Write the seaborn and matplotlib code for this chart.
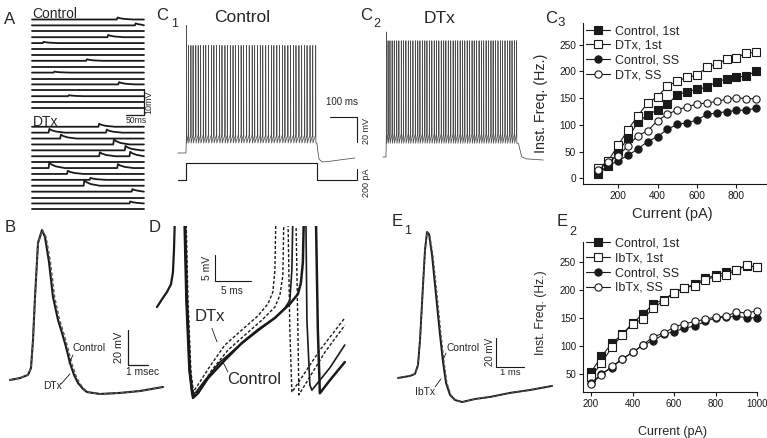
import matplotlib
matplotlib.use("Agg")
import matplotlib.pyplot as plt
import seaborn as sns

sns.set_theme(style="ticks")
plt.rcParams['font.family'] = ['Liberation Sans', 'DejaVu Sans']

# ---------------- data ----------------
# C3: firing frequency vs injected current (Control vs DTx)
c3_current = [100, 150, 200, 250, 300, 350, 400, 450, 500, 550, 600, 650, 700, 750, 800, 850, 900]
c3_ctrl_1st = [8, 24, 50, 75, 105, 119, 128, 139, 156, 162, 167, 170, 181, 186, 189, 192, 200]
c3_dtx_1st = [19, 33, 62, 91, 117, 141, 153, 173, 182, 189, 193, 208, 214, 223, 226, 234, 236]
c3_ctrl_ss = [11, 24, 33, 43, 55, 69, 78, 92, 101, 104, 109, 120, 122, 125, 127, 128, 131]
c3_dtx_ss = [16, 31, 42, 61, 80, 89, 108, 120, 128, 134, 139, 141, 144, 148, 151, 149, 149]

# E2: firing frequency vs injected current (Control vs IbTx)
e2_current = [200, 250, 300, 350, 400, 450, 500, 550, 600, 650, 700, 750, 800, 850, 900, 950, 1000]
e2_ctrl_1st = [54, 82, 105, 121, 141, 157, 175, 183, 195, 204, 210, 221, 226, 232, 236, 243, 241]
e2_ibtx_1st = [45, 70, 98, 120, 140, 148, 168, 181, 195, 204, 208, 218, 224, 226, 236, 244, 241]
e2_ctrl_ss = [34, 51, 62, 77, 89, 102, 110, 121, 126, 132, 136, 144, 150, 152, 153, 151, 150]
e2_ibtx_ss = [33, 49, 64, 77, 89, 102, 117, 123, 134, 140, 144, 148, 152, 153, 161, 159, 163]

# A: spontaneous sweeps, events per sweep (time ms, amplitude mV)
a_sweep_ms = 310
a_ctrl_events = [[(235, 0.8)], [(285, 0.8)], [], [(209, 0.9)], [(30, 0.5)], [], [],
                 [(150, 0.6)], [], [(60, 0.4)], [], [(239, 0.9)], [], [(100, 0.4)], [], []]
a_dtx_events = [[(184, 1.2)], [(46, 1.5), (205, 1.2)], [(78, 1.6)], [(225, 2.0)],
                [(257, 1.8)], [(186, 1.6), (270, 1.8)], [], [(46, 2.2), (236, 1.6)],
                [(97, 1.3)], [(160, 0.8)], [(143, 2.2)], [(276, 1.0)], [], [(270, 0.8)], []]
epsp_dt = [0, 2, 8, 20, 45]
epsp_frac = [0, 1, 0.65, 0.3, 0]

# B: single action potential (ms, mV)
b_ctrl_t = [0, 0.5, 0.9, 1.05, 1.15, 1.25, 1.4, 1.6, 1.75, 1.95, 2.15, 2.4, 2.6, 2.8, 3.0,
            3.2, 3.4, 3.65, 3.85, 4.5, 5.5, 6.5, 7.65]
b_dtx_t = [0, 0.5, 0.9, 1.05, 1.15, 1.25, 1.4, 1.62, 1.8, 2.02, 2.23, 2.48, 2.68, 2.88, 3.08,
           3.28, 3.47, 3.7, 3.9, 4.5, 5.5, 6.5, 7.65]
b_v = [-60, -58.9, -57.1, -53.1, -37.1, -12.6, 18.3, 25.7, 21.7, 7.4, -12.6, -25.7, -33.1,
       -41.1, -50.3, -57.1, -61.7, -65.1, -66.9, -68.0, -67.4, -66.3, -64.0]

# C1 / C2: spike trains during current step (ms)
c1_spikes = [24, 31, 40, 48, 58, 67, 76, 86, 95, 105, 116, 125, 135, 146, 155, 166, 175, 186,
             196, 205, 216, 226, 235, 246, 256, 267, 276, 287, 297, 306, 317, 327, 338, 347,
             358, 368, 379, 388, 399, 409, 420, 429, 440, 450, 461, 470, 481, 491, 502]
c2_spikes = [42, 48, 55, 63, 71, 80, 88, 97, 105, 114, 123, 131, 140, 149, 158, 166, 175, 184,
             192, 201, 210, 219, 227, 236, 245, 254, 262, 271, 280, 289, 297, 306, 315, 324,
             332, 341, 350, 359, 367, 376, 385, 394, 402, 411, 420, 429, 437, 446, 455, 464,
             472, 481, 490, 499, 507, 516, 524]
c1_tail_t = [507, 510, 515, 527, 560, 600, 648]
c1_tail_v = [-57, -63, -70, -72.2, -71.5, -70.3, -69]
c2_tail_t = [531, 543, 560, 623]
c2_tail_v = [-54, -64.8, -66.5, -67.4]
c1_step_t = [-8, 22, 22, 507, 507, 650]
c1_step_pa = [0, 0, 300, 300, 0, 0]

# D: interspike trajectories (ms, mV)
d_prev_t = [0.97, 1.67, 2.36, 2.92, 3.19, 3.33, 3.47]
d_prev_v = [17.9, 19.4, 20.8, 22.3, 24.6, 28.8, 35.6]
d_ctrl1_t = [4.72, 5.0, 5.42, 5.83, 6.39, 7.64, 9.72, 12.5, 15.0, 17.36, 18.75, 19.44, 19.72,
             19.86, 21.67, 21.81, 22.22, 22.5, 23.61, 25.0, 27.08]
d_ctrl1_v = [35.6, 19.2, 5.8, 1.0, 1.5, 3.8, 7.3, 10.6, 13.3, 15.8, 17.7, 19.2, 25.0, 35.6,
             35.6, 15.4, 2.9, 1.9, 3.8, 6.2, 10.6]
d_ctrl2_t = [4.86, 5.14, 5.56, 5.97, 6.67, 8.06, 10.42, 12.78, 15.0, 17.36, 19.44, 20.56,
             20.97, 21.25, 21.39, 23.06, 23.33, 23.61, 25.0, 27.08]
d_ctrl2_v = [35.6, 19.2, 5.4, 0.4, 1.3, 4.2, 7.7, 11.0, 13.5, 15.8, 18.5, 20.4, 22.5, 26.5,
             35.6, 35.6, 13.5, 1.3, 3.8, 7.3]
d_dtx1_t = [4.86, 5.14, 5.56, 5.97, 6.94, 8.33, 10.42, 12.78, 15.0, 16.39, 17.08, 17.36, 17.5,
            19.17, 19.44, 19.72, 20.83, 23.61, 27.08]
d_dtx1_v = [35.6, 19.2, 6.2, 1.5, 3.5, 6.5, 10.6, 13.5, 16.2, 18.5, 20.8, 25.0, 35.6, 35.6,
            13.5, 1.5, 3.8, 9.6, 15.8]
d_dtx2_t = [5.0, 5.28, 5.69, 6.11, 7.22, 8.61, 10.83, 13.19, 15.56, 17.36, 18.06, 18.47, 18.61,
            20.28, 20.56, 20.69, 21.53, 24.31, 27.08]
d_dtx2_v = [35.6, 19.2, 5.4, 0.8, 2.7, 5.8, 9.6, 12.5, 15.4, 17.9, 20.2, 24.0, 35.6, 35.6,
            13.5, 1.0, 2.9, 9.2, 14.4]

# E1: single action potential, Control vs IbTx (ms, mV)
e1_ctrl_t = [0.107, 0.536, 0.714, 0.821, 0.893, 1.0, 1.071, 1.143, 1.214, 1.321, 1.464, 1.607,
             1.714, 1.821, 1.964, 2.143, 2.393, 2.857, 3.393, 4.107, 4.821, 5.607]
e1_ibtx_t = [0.107, 0.536, 0.714, 0.821, 0.893, 1.0, 1.071, 1.143, 1.23, 1.35, 1.5, 1.64,
             1.75, 1.85, 1.99, 2.16, 2.4, 2.86, 3.39, 4.11, 4.82, 5.61]
e1_v = [-60, -58.6, -57.2, -51.0, -33.8, 4.1, 28.3, 40.7, 39.3, 24.8, -2.8, -30.3, -49.0,
        -63.4, -71.7, -75.2, -76.6, -74.5, -73.1, -70.3, -68.3, -65.5]

# ---------------- layout helpers ----------------
W, H = 767, 438
fig = plt.figure(figsize=(W / 100, H / 100), dpi=100)


def rect(x0, y0, x1, y1):
    return [x0 / W, 1 - y1 / H, (x1 - x0) / W, (y1 - y0) / H]


def ftext(x, y, s, size, **kw):
    fig.text(x / W, 1 - y / H, s, fontsize=size, ha='center', va='center', **kw)


def trace_ax(r, xlim, ylim):
    ax = fig.add_axes(rect(*r))
    ax.set_xlim(*xlim)
    ax.set_ylim(*ylim)
    ax.axis('off')
    return ax


DASH = (0, (2.2, 1.4))

# ---------------- A ----------------
axA = trace_ax((25, 8, 160, 215), (-19.4, 354.6), (-78.2, 4.6))


def sweep(events):
    t, v = [0], [0]
    for t0, amp in events:
        for dt, f in zip(epsp_dt, epsp_frac):
            if t0 + dt < a_sweep_ms:
                t.append(t0 + dt)
                v.append(amp * f)
    t.append(a_sweep_ms)
    v.append(0)
    return t, v


for k, ev in enumerate(a_ctrl_events):
    t, v = sweep(ev)
    axA.plot(t, [x - 2.36 * k for x in v], color='k', lw=1.3)
for k, ev in enumerate(a_dtx_events):
    t, v = sweep(ev)
    axA.plot(t, [x - 42.9 - 2.36 * k for x in v], color='k', lw=1.3)
axA.plot([260.4, 310, 310], [-38.2, -38.2, -27.8], color='k', lw=0.9)
axA.text(322.7, -33, '10mV', rotation=90, fontsize=6.5, ha='center', va='center')
axA.text(288, -40.4, '50ms', fontsize=6.2, ha='center', va='center')
axA.text(0, 2.4, 'Control', fontsize=10, ha='left', va='center', clip_on=False)
axA.text(2.8, -40.8, 'DTx', fontsize=10, ha='left', va='center')

# ---------------- B ----------------
axB = trace_ax((5, 222, 175, 405), (-0.25, 8.25), (-74.3, 30.3))
axB.plot(b_ctrl_t, b_v, color='k', lw=1.5)
axB.plot(b_dtx_t, b_v, color='0.35', lw=1.1, ls=DASH)
axB.plot([5.9, 5.9, 6.9], [-31.4, -51.4, -51.4], color='k', lw=0.9)
axB.text(5.45, -41.1, '20 mV', rotation=90, fontsize=7.8, ha='center', va='center')
axB.text(6.65, -55.5, '1 msec', fontsize=7.4, ha='center', va='center')
axB.text(3.95, -41.7, 'Control', fontsize=7.4, ha='center', va='center')
axB.plot([3.15, 2.95], [-45.7, -50.5], color='k', lw=0.6)
axB.text(2.1, -63.4, 'DTx', fontsize=7.4, ha='center', va='center')
axB.plot([2.55, 3.0], [-62.3, -56.5], color='k', lw=0.6)

# ---------------- C1 ----------------
axC1 = trace_ax((175, 5, 375, 200), (-18.5, 722), (-102.6, 53.4))


def train(pre_t, t_on, rest, times, first_pk, pk, top, bottom, tail_t, tail_v):
    t, v = [pre_t, t_on], [rest, rest]
    for i, ts in enumerate(times):
        t += [ts, ts + 0.4, ts + 1.2]
        v += [top, first_pk if i == 0 else pk, bottom]
    return t + tail_t, v + tail_v


t1, v1 = train(-8, 22, -65, c1_spikes, 37, 21, -50.5, -57, c1_tail_t, c1_tail_v)
axC1.plot(t1, v1, color='0.3', lw=0.55)
i_base, i_scale = -86.6, 0.0453
axC1.plot(c1_step_t, [i_base + p * i_scale for p in c1_step_pa], color='k', lw=0.8)
axC1.plot([555.6, 655.6, 655.6], [-36.0, -36.0, -56.0], color='k', lw=0.8)
axC1.plot([655.6, 655.6], [i_base, i_base + 200 * i_scale], color='k', lw=0.8)
axC1.text(600, -24, '100 ms', fontsize=7, ha='center', va='center')
axC1.text(691, -47.2, '20 mV', rotation=90, fontsize=6.5, ha='center', va='center')
axC1.text(691, -88.8, '200 pA', rotation=90, fontsize=6.5, ha='center', va='center')

# ---------------- C2 ----------------
axC2 = trace_ax((375, 5, 550, 200), (0, 648), (-99.4, 56.6))
t2, v2 = train(29.6, 40.7, -65, c2_spikes, 35, 28, -46.5, -54, c2_tail_t, c2_tail_v)
axC2.plot(t2, v2, color='0.3', lw=0.55)

# ---------------- D ----------------
axD = trace_ax((150, 226, 350, 405), (0, 27.8), (-0.96, 33.5))
axD.plot(d_prev_t, d_prev_v, color='k', lw=1.6)
axD.plot(d_ctrl1_t, d_ctrl1_v, color='k', lw=1.2)
axD.plot(d_ctrl2_t, d_ctrl2_v, color='k', lw=1.8)
axD.plot(d_dtx1_t, d_dtx1_v, color='k', lw=1.0, ls=DASH)
axD.plot(d_dtx2_t, d_dtx2_v, color='k', lw=1.0, ls=DASH)
axD.plot([9.03, 9.03, 14.03], [27.9, 22.9, 22.9], color='k', lw=0.8)
axD.text(7.9, 25.4, '5 mV', rotation=90, fontsize=7.5, ha='center', va='center')
axD.text(11.4, 21.0, '5 ms', fontsize=7.2, ha='center', va='center')
axD.text(8.33, 16.0, 'DTx', fontsize=12, ha='center', va='center')
axD.plot([8.61, 9.31], [13.8, 11.2], color='k', lw=0.6)
axD.text(14.44, 4.0, 'Control', fontsize=12, ha='center', va='center')
axD.plot([10.14, 10.83], [7.3, 5.4], color='k', lw=0.6)

# ---------------- E1 ----------------
axE1 = trace_ax((385, 222, 560, 410), (-0.357, 5.89), (-82.1, 47.6))
axE1.plot(e1_ctrl_t, e1_v, color='k', lw=1.4)
axE1.plot(e1_ibtx_t, e1_v, color='0.3', lw=1.0, ls=DASH)
axE1.plot([3.607, 3.607, 4.607], [-32.4, -52.4, -52.4], color='k', lw=0.8)
axE1.text(3.39, -42, '20 mV', rotation=90, fontsize=7, ha='center', va='center')
axE1.text(4.11, -56.5, '1 ms', fontsize=6.8, ha='center', va='center')
axE1.text(2.43, -39.3, 'Control', fontsize=7.4, ha='center', va='center')
axE1.plot([1.82, 1.71], [-42.8, -47.6], color='k', lw=0.6)
axE1.text(1.07, -69.7, 'IbTx', fontsize=7.4, ha='center', va='center')
axE1.plot([1.43, 1.64], [-66.2, -60.7], color='k', lw=0.6)


# ---------------- C3 / E2 ----------------
def fi_panel(r, xlim, ylim, xticks, yticks, current, series, labels, tick_fs, lab_fs,
             xlab_xy, ylab_xy, leg_xy):
    ax = fig.add_axes(rect(*r))
    styles = [('s', 'k'), ('s', 'white'), ('o', 'k'), ('o', 'white')]
    for vals, lab, (mk, fc) in zip(series, labels, styles):
        sns.lineplot(x=current, y=vals, ax=ax, color='k', lw=0.8, marker=mk, markersize=5.2,
                     markerfacecolor=fc, markeredgecolor='k', markeredgewidth=0.8,
                     label=lab, clip_on=False, zorder=3)
    ax.set_xlim(*xlim)
    ax.set_ylim(*ylim)
    ax.set_xticks(xticks)
    ax.set_yticks(yticks)
    ax.tick_params(direction='out', length=3, width=0.8, labelsize=tick_fs, pad=2, colors='k')
    sns.despine(ax=ax)
    for s in ('left', 'bottom'):
        ax.spines[s].set_color('k')
        ax.spines[s].set_linewidth(0.8)
    ax.set_xlabel('Current (pA)', fontsize=lab_fs[0])
    ax.set_ylabel('Inst. Freq. (Hz.)', fontsize=lab_fs[1])
    ax.xaxis.set_label_coords(*xlab_xy)
    ax.yaxis.set_label_coords(*ylab_xy)
    ax.legend(loc='upper left', bbox_to_anchor=leg_xy, frameon=False, fontsize=9,
              handlelength=1.9, handletextpad=0.4, labelspacing=0.22, borderpad=0,
              borderaxespad=0)
    return ax


fi_panel((583, 23.3, 766, 184.3), (22, 950), (-11, 290), [200, 400, 600, 800],
         [0, 50, 100, 150, 200, 250], c3_current,
         [c3_ctrl_1st, c3_dtx_1st, c3_ctrl_ss, c3_dtx_ss],
         ['Control, 1st', 'DTx, 1st', 'Control, SS', 'DTx, SS'], 7.3, (10.5, 10.3),
         (0.489, -0.141), (-0.191, 0.5), (0.016, 0.989))
fi_panel((583, 241.7, 757, 391.7), (161, 1000), (19, 286), [200, 400, 600, 800, 1000],
         [50, 100, 150, 200, 250], e2_current,
         [e2_ctrl_1st, e2_ibtx_1st, e2_ctrl_ss, e2_ibtx_ss],
         ['Control, 1st', 'IbTx, 1st', 'Control, SS', 'IbTx, SS'], 7, (9, 8.7),
         (0.517, -0.232), (-0.207, 0.528), (0.017, 1.027))

# ---------------- panel letters and titles ----------------
ftext(10, 20, 'A', 12)
ftext(10, 227.5, 'B', 12)
ftext(155, 227.5, 'D', 12)
ftext(162.5, 16, 'C', 12)
ftext(175, 24, '1', 9)
ftext(366.5, 16, 'C', 12)
ftext(377, 24, '2', 9)
ftext(551, 18.5, 'C', 12)
ftext(561.5, 23.5, '3', 9.5)
ftext(397.5, 221.5, 'E', 12)
ftext(407.5, 231, '1', 9)
ftext(562.5, 221.5, 'E', 12)
ftext(573, 232, '2', 9)
ftext(242, 17.5, 'Control', 12.5)
ftext(440, 18.5, 'DTx', 12.5)

fig.savefig('out.png', dpi=100)
